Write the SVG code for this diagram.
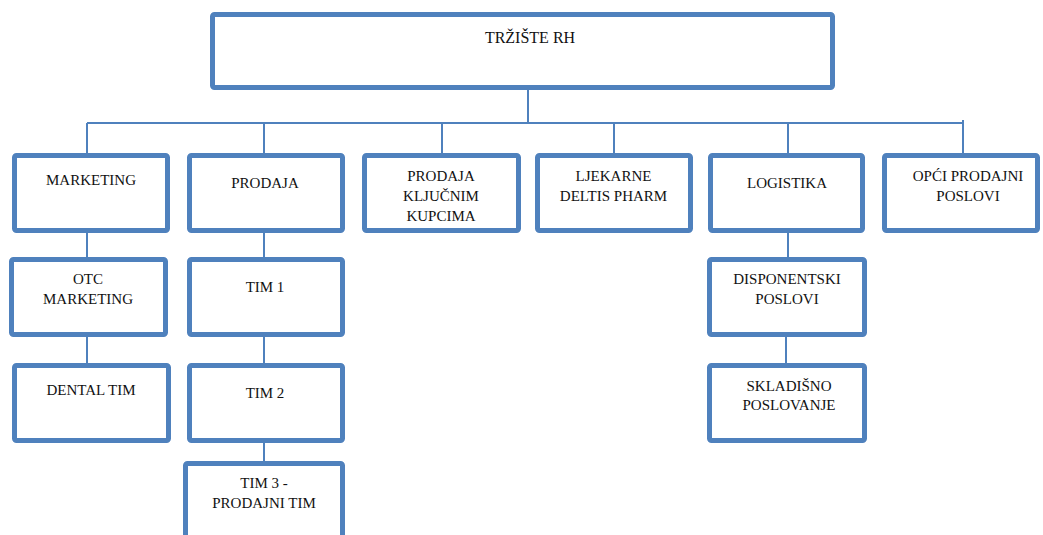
<svg xmlns="http://www.w3.org/2000/svg" width="1043" height="535" viewBox="0 0 1043 535">
<style>
.box{fill:#fff;stroke:#4F81BD;stroke-width:5}
.ln{stroke:#4F81BD;stroke-width:2;fill:none}
.t{font-family:'Liberation Serif','Times New Roman',Times,serif;font-size:15px;fill:#111;text-anchor:middle}
</style>
<rect width="1043" height="535" fill="#fff"/>
<g id="connectors">
<path class="ln" d="M528,90V123M87,123H963M963,120V153M87,123V153M264,123V153M442,123V153M614,123V153M788,123V153"/>
<path class="ln" d="M87,233V257M87,337V363M264,233V257M264,337V363M264,443V461M788,233V257M786,337V363"/>
</g>
<g id="n-top"><rect class="box" x="212.5" y="14.5" width="620" height="73" rx="2"/><text class="t" x="530" y="43" style="font-size:16px">TRŽIŠTE RH</text></g>
<g id="n-marketing"><rect class="box" x="14.5" y="155.5" width="153" height="75" rx="2"/><text class="t" x="91" y="185">MARKETING</text></g>
<g id="n-prodaja"><rect class="box" x="189.5" y="155.5" width="153" height="75" rx="2"/><text class="t" x="265" y="188">PRODAJA</text></g>
<g id="n-pkk"><rect class="box" x="364.5" y="155.5" width="154" height="75" rx="2"/><text class="t" x="441" y="181">PRODAJA</text><text class="t" x="441" y="201">KLJUČNIM</text><text class="t" x="441" y="221">KUPCIMA</text></g>
<g id="n-ljekarne"><rect class="box" x="537.5" y="155.5" width="153" height="75" rx="2"/><text class="t" x="613.5" y="181">LJEKARNE</text><text class="t" x="613.5" y="201">DELTIS PHARM</text></g>
<g id="n-logistika"><rect class="box" x="710.5" y="155.5" width="152" height="75" rx="2"/><text class="t" x="787" y="188">LOGISTIKA</text></g>
<g id="n-opci"><rect class="box" x="884.5" y="155.5" width="153" height="75" rx="2"/><text class="t" x="968" y="181">OPĆI PRODAJNI</text><text class="t" x="968" y="201">POSLOVI</text></g>
<g id="n-otc"><rect class="box" x="11.5" y="259.5" width="154" height="75" rx="2"/><text class="t" x="88" y="284">OTC</text><text class="t" x="88" y="304">MARKETING</text></g>
<g id="n-tim1"><rect class="box" x="189.5" y="259.5" width="153" height="75" rx="2"/><text class="t" x="265" y="292">TIM 1</text></g>
<g id="n-disp"><rect class="box" x="709.5" y="259.5" width="155" height="75" rx="2"/><text class="t" x="787" y="284">DISPONENTSKI</text><text class="t" x="787" y="304">POSLOVI</text></g>
<g id="n-dental"><rect class="box" x="14.5" y="365.5" width="154" height="75" rx="2"/><text class="t" x="91" y="395">DENTAL TIM</text></g>
<g id="n-tim2"><rect class="box" x="189.5" y="365.5" width="153" height="75" rx="2"/><text class="t" x="265" y="398">TIM 2</text></g>
<g id="n-sklad"><rect class="box" x="709.5" y="365.5" width="155" height="75" rx="2"/><text class="t" x="789" y="391">SKLADIŠNO</text><text class="t" x="789" y="410">POSLOVANJE</text></g>
<g id="n-tim3"><rect class="box" x="185.5" y="463.5" width="157" height="90" rx="2"/><text class="t" x="264" y="488">TIM 3 -</text><text class="t" x="264" y="508">PRODAJNI TIM</text></g>
</svg>
